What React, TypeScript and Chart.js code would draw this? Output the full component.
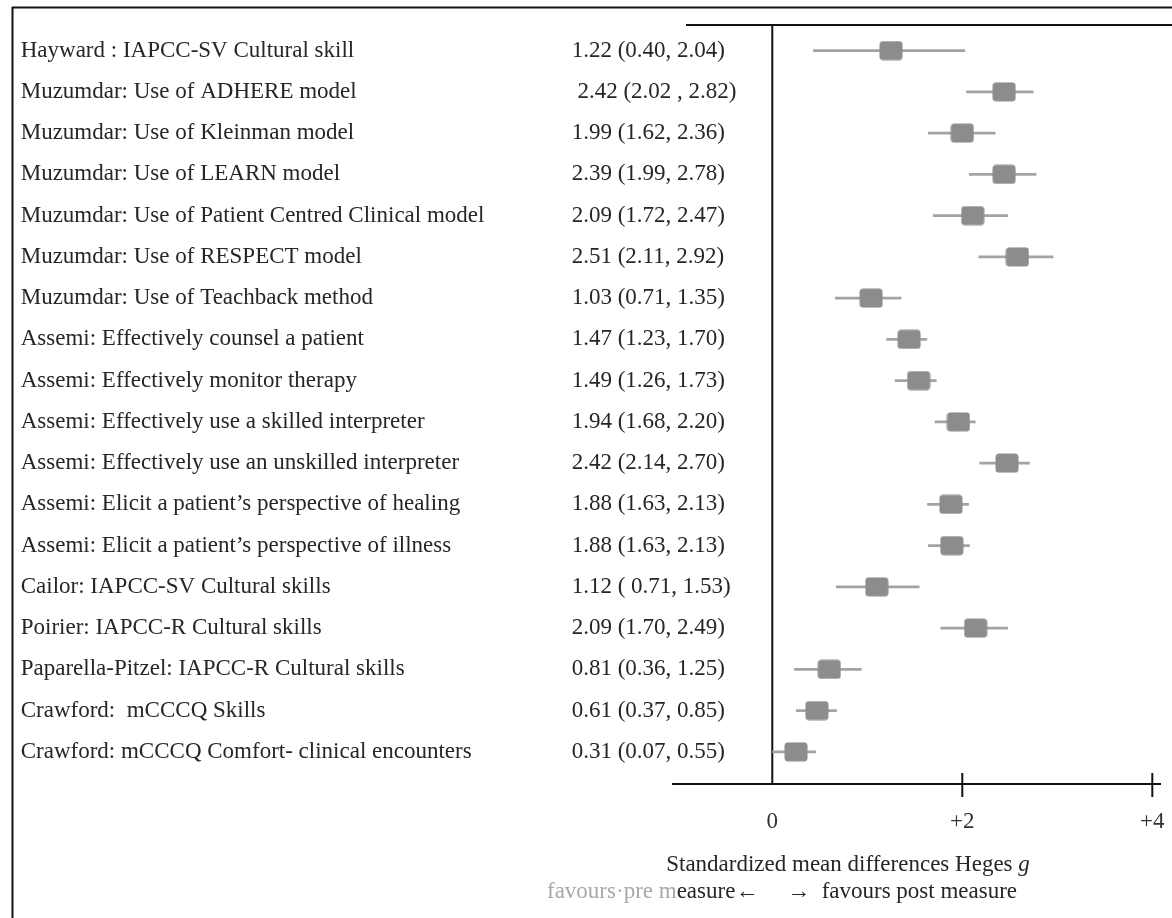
import React, { useEffect, useRef } from "react";
import { Chart, registerables } from "chart.js";

Chart.register(...registerables);

const STUDY_LABELS = [
  "Hayward : IAPCC-SV Cultural skill",
  "Muzumdar: Use of ADHERE model",
  "Muzumdar: Use of Kleinman model",
  "Muzumdar: Use of LEARN model",
  "Muzumdar: Use of Patient Centred Clinical model",
  "Muzumdar: Use of RESPECT model",
  "Muzumdar: Use of Teachback method",
  "Assemi: Effectively counsel a patient",
  "Assemi: Effectively monitor therapy",
  "Assemi: Effectively use a skilled interpreter",
  "Assemi: Effectively use an unskilled interpreter",
  "Assemi: Elicit a patient\u2019s perspective of healing",
  "Assemi: Elicit a patient\u2019s perspective of illness",
  "Cailor: IAPCC-SV Cultural skills",
  "Poirier: IAPCC-R Cultural skills",
  "Paparella-Pitzel: IAPCC-R Cultural skills",
  "Crawford:  mCCCQ Skills",
  "Crawford: mCCCQ Comfort- clinical encounters",
];

const EFFECT_LABELS = [
  "1.22 (0.40, 2.04)",
  " 2.42 (2.02 , 2.82)",
  "1.99 (1.62, 2.36)",
  "2.39 (1.99, 2.78)",
  "2.09 (1.72, 2.47)",
  "2.51 (2.11, 2.92)",
  "1.03 (0.71, 1.35)",
  "1.47 (1.23, 1.70)",
  "1.49 (1.26, 1.73)",
  "1.94 (1.68, 2.20)",
  "2.42 (2.14, 2.70)",
  "1.88 (1.63, 2.13)",
  "1.88 (1.63, 2.13)",
  "1.12 ( 0.71, 1.53)",
  "2.09 (1.70, 2.49)",
  "0.81 (0.36, 1.25)",
  "0.61 (0.37, 0.85)",
  "0.31 (0.07, 0.55)",
];

// Plotted positions
const MEAN = [1.25, 2.44, 2.0, 2.44, 2.11, 2.58, 1.04, 1.44, 1.54, 1.96, 2.47, 1.88, 1.89, 1.1, 2.14, 0.6, 0.47, 0.25];
const LOWER = [0.43, 2.04, 1.64, 2.07, 1.69, 2.17, 0.66, 1.2, 1.29, 1.71, 2.18, 1.63, 1.64, 0.67, 1.77, 0.23, 0.25, 0.0];
const UPPER = [2.03, 2.75, 2.35, 2.78, 2.48, 2.96, 1.36, 1.63, 1.73, 2.14, 2.71, 2.07, 2.08, 1.55, 2.48, 0.94, 0.68, 0.46];

const X_TICKS = [0, 2, 4];
const X_TITLE = "Standardized mean differences Heges ";
const X_TITLE_ITALIC = "g";
const DIR_FADED = "favours\u00b7pre m";
const DIR_REST = "easure\u2190     \u2192  favours post measure";

const FONT = '"Liberation Serif", "Times New Roman", serif';
const FONT_SIZE = 23;
const TEXT = "#262626";

export default function App() {
  const ref = useRef<HTMLCanvasElement>(null);

  useEffect(() => {
    const canvas = ref.current!;
    const marker = document.createElement("canvas");
    marker.width = 24;
    marker.height = 20;
    const mctx = marker.getContext("2d")!;
    mctx.fillStyle = "#8c8c8c";
    mctx.beginPath();
    (mctx as any).roundRect(0.5, 0.5, 23, 19, 3.5);
    mctx.fill();

    const rowIdx = STUDY_LABELS.map((_, i) => i);

    const ciSets = rowIdx.map((i) => ({
      data: [
        { x: LOWER[i], y: i },
        { x: UPPER[i], y: i },
      ],
      showLine: true,
      borderColor: "#a3a3a3",
      borderWidth: 2.6,
      pointRadius: 0,
      order: 2,
    }));

    const markerSet = {
      data: MEAN.map((m, i) => ({ x: m, y: i })),
      pointStyle: marker,
      pointRadius: 10,
      showLine: false,
      order: 1,
    };

    const decor = {
      id: "decor",
      beforeDatasetsDraw(chart: any) {
        const { ctx, chartArea: ca, scales } = chart;
        const x0 = scales.x.getPixelForValue(0);
        ctx.save();
        ctx.strokeStyle = "#111";
        ctx.lineWidth = 2;
        ctx.beginPath();
        ctx.moveTo(ca.left + 13, ca.top);
        ctx.lineTo(chart.width, ca.top);
        ctx.stroke();
        ctx.beginPath();
        ctx.moveTo(x0, ca.top);
        ctx.lineTo(x0, ca.bottom);
        ctx.stroke();
        ctx.restore();
      },
      afterDraw(chart: any) {
        const { ctx, chartArea: ca, scales } = chart;
        ctx.save();
        ctx.strokeStyle = "#111";
        ctx.lineWidth = 2;
        X_TICKS.filter((v) => v !== 0).forEach((v) => {
          const px = scales.x.getPixelForValue(v);
          ctx.beginPath();
          ctx.moveTo(px, ca.bottom - 11);
          ctx.lineTo(px, ca.bottom + 13);
          ctx.stroke();
        });
        ctx.beginPath();
        ctx.moveTo(12.5, 7);
        ctx.lineTo(12.5, chart.height);
        ctx.moveTo(12, 7.5);
        ctx.lineTo(chart.width, 7.5);
        ctx.stroke();
        ctx.textBaseline = "middle";
        ctx.textAlign = "left";
        const normal = `${FONT_SIZE}px ${FONT}`;
        const italic = `italic ${FONT_SIZE}px ${FONT}`;
        ctx.font = normal;
        const w1 = ctx.measureText(X_TITLE).width;
        ctx.font = italic;
        const w2 = ctx.measureText(X_TITLE_ITALIC).width;
        const cx = 848;
        const sx = cx - (w1 + w2) / 2;
        ctx.fillStyle = TEXT;
        ctx.font = normal;
        ctx.fillText(X_TITLE, sx, 865);
        ctx.font = italic;
        ctx.fillText(X_TITLE_ITALIC, sx + w1, 865);
        ctx.font = normal;
        ctx.fillStyle = "#a8a8a8";
        ctx.fillText(DIR_FADED, 547, 892);
        const wf = ctx.measureText(DIR_FADED).width;
        ctx.fillStyle = TEXT;
        ctx.fillText(DIR_REST, 547 + wf, 892);
        ctx.restore();
      },
    };

    const yCommon = {
      type: "linear" as const,
      position: "left" as const,
      reverse: true,
      min: -0.62,
      max: 17.78,
      grid: { display: false, drawTicks: false },
      border: { display: false },
      afterBuildTicks: (axis: any) => {
        axis.ticks = rowIdx.map((i) => ({ value: i }));
      },
    };

    const EFFECT_AXIS_W = 101.3;

    const chart = new Chart(canvas, {
      type: "scatter",
      data: { datasets: [markerSet as any, ...ciSets] },
      plugins: [decor],
      options: {
        responsive: false,
        animation: false,
        layout: { padding: { left: 20.7, right: 12, top: 25, bottom: 0 } },
        plugins: { legend: { display: false }, tooltip: { enabled: false } },
        scales: {
          x: {
            type: "linear",
            position: "bottom",
            min: -1.045,
            max: 4.081,
            grid: { display: false, drawTicks: false },
            border: { display: true, color: "#111", width: 2 },
            afterBuildTicks: (axis: any) => {
              axis.ticks = X_TICKS.map((v) => ({ value: v }));
            },
            afterFit: (axis: any) => {
              axis.height = 134;
              axis.paddingLeft = 0;
              axis.paddingRight = 0;
            },
            ticks: {
              padding: 24.5,
              autoSkip: false,
              maxRotation: 0,
              color: "#333",
              font: { family: FONT, size: FONT_SIZE },
              callback: (v: any) => (Number(v) === 0 ? "0" : "+" + v),
            },
          },
          y: {
            ...yCommon,
            weight: 2,
            afterFit: (axis: any) => {
              axis.width = 551;
            },
            ticks: {
              autoSkip: false,
              crossAlign: "far",
              color: TEXT,
              font: { family: FONT, size: FONT_SIZE },
              callback: (_v: any, i: number) => STUDY_LABELS[i],
            },
          },
          y2: {
            ...yCommon,
            weight: 1,
            afterFit: (axis: any) => {
              axis.width = EFFECT_AXIS_W;
            },
            ticks: {
              autoSkip: false,
              mirror: true,
              crossAlign: "near",
              padding: -EFFECT_AXIS_W,
              color: TEXT,
              font: { family: FONT, size: FONT_SIZE },
              callback: (_v: any, i: number) => EFFECT_LABELS[i],
            },
          },
        } as any,
      },
    });
    return () => chart.destroy();
  }, []);

  return (
    <div style={{ position: "absolute", left: 0, top: 0, width: 1172, height: 918, background: "#fff" }}>
      <canvas ref={ref} width={1172} height={918} style={{ display: "block", width: 1172, height: 918 }} />
    </div>
  );
}
